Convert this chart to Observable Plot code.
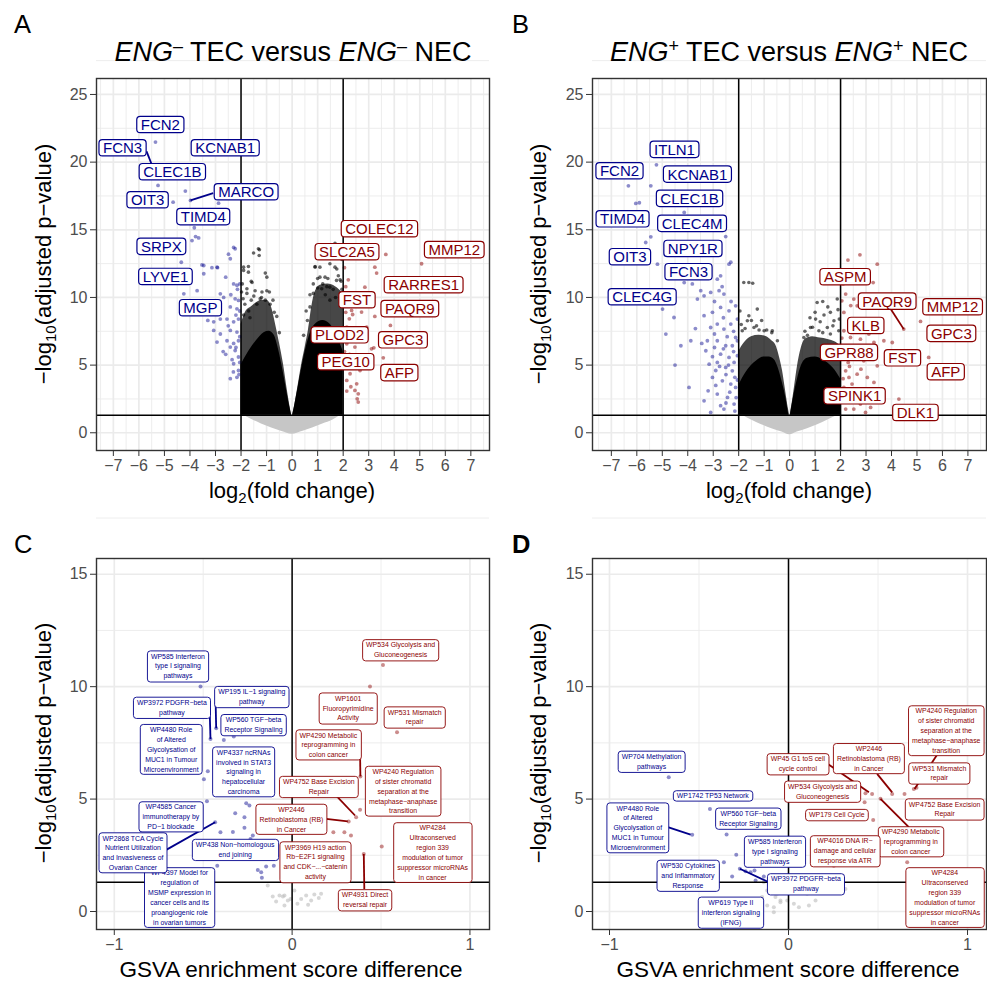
<!DOCTYPE html>
<html><head><meta charset="utf-8">
<script src="https://cdn.jsdelivr.net/npm/d3@7"></script>
<script src="https://cdn.jsdelivr.net/npm/@observablehq/plot@0.6"></script>
<style>
body{margin:0;background:#fff;}
#root{position:relative;width:987px;height:983px;overflow:hidden;background:#fff;}
#root svg{position:absolute;}
</style></head>
<body><div id="root"></div>
<script>
// ---------------- Panel A data (ENG- TEC vs ENG- NEC) ----------------
const aBlue = [[-5.35,21.48],[-5.45,19.8],[-5.25,18.28],[-4.18,17.86],[-3.98,17.17],[-4.66,17.04],[-2.88,16.97],[-3.83,15.15],[-3.92,14.2],[-3.66,14.4],[-3.78,14.5],[-2.23,13.6],[-4.34,12.6],[-3.53,12.4],[-3.14,12.2],[-2.92,12.2],[-2.49,13.2],[-2.29,13.7],[-2.42,12.86],[-3.46,11.75],[-3.72,10.5],[-4.24,10.27],[-2.81,10.27],[-2.68,10.0],[-2.29,11.0],[-2.16,10.9],[-2.14,10.6],[-2.23,9.9],[-2.1,9.78],[-2.42,9.3],[-2.16,9.16],[-2.81,8.4],[-2.55,8.4],[-3.07,8.2],[-2.29,8.2],[-2.1,8.4],[-3.07,7.56],[-2.81,7.3],[-2.42,7.56],[-2.16,7.44],[-2.55,6.8],[-2.29,6.6],[-2.1,6.8],[-2.42,6.33],[-2.23,6.08],[-2.1,5.6],[-2.29,5.1],[-2.1,4.6],[-2.16,4.1],[-2.42,4.0],[-2.94,6.7],[-2.6,5.8],[-2.35,5.4],[-2.7,6.0],[-2.05,7.1],[-2.05,9.0],[-2.5,7.9],[-2.2,8.7],[-3.3,8.3],[-2.3,4.5],[-2.05,5.2],[-2.94,12.24],[-3.46,12.36],[-2.6,11.5],[-2.05,11.0],[-2.4,10.2],[-2.9,9.6],[-2.2,6.3],[-2.08,4.3]];
const aRed = [[3.67,13.18],[5.07,12.49],[3.24,12.24],[3.31,11.8],[2.2,11.3],[2.85,10.76],[2.27,10.0],[2.07,9.65],[2.33,9.04],[2.37,8.74],[2.24,8.42],[2.72,8.92],[3.24,8.6],[3.85,7.93],[2.14,7.8],[2.33,7.56],[2.92,7.8],[2.14,6.58],[2.46,6.33],[3.11,6.2],[3.2,6.28],[3.57,5.54],[2.2,5.22],[2.4,4.85],[2.66,4.6],[2.27,4.36],[2.14,3.87],[2.53,3.62],[2.46,3.13],[2.14,3.08],[2.59,2.88],[2.55,2.51],[2.59,2.27],[2.92,4.85],[2.05,12.2],[2.1,10.8],[2.05,6.0],[2.25,5.8],[2.1,8.9],[2.05,4.9],[2.3,3.4]];
const aBlack = [[-1.51,13.28],[-1.28,13.52],[-1.71,12.29],[-1.9,12.0],[-1.05,11.8],[-1.77,10.64],[-1.45,10.5],[-0.99,10.5],[-0.89,10.4],[1.48,12.49],[1.68,12.24],[1.09,12.24],[0.9,12.29],[1.81,11.6],[1.29,11.5],[0.83,11.0],[1.74,11.26],[1.16,10.64],[1.48,10.76],[1.88,10.0],[1.68,14.0],[-1.95,11.0],[-1.6,11.2],[-1.2,10.0],[-1.85,9.5],[-1.6,9.8],[-0.75,9.8],[1.95,12.8],[1.6,13.0],[1.0,11.4],[0.7,10.2],[1.92,11.2],[-1.98,10.4],[-1.9,8.7],[-1.7,9.0],[-0.6,8.6],[0.55,9.0],[1.3,10.2],[-1.9,12.24],[-1.71,11.87],[-1.32,13.6],[-1.29,13.1],[-0.99,11.5],[-1.57,11.1],[-1.77,10.3],[-1.18,10.4],[-1.05,9.8],[-1.38,9.5],[-0.86,9.5],[-1.5,10.1],[-1.25,9.9],[-1.92,9.9],[-1.65,8.5],[-0.7,8.9],[-0.5,7.4],[0.9,12.24],[1.09,11.5],[0.83,10.3],[1.36,10.8],[1.75,12.1],[1.88,11.3],[0.7,9.3],[1.48,9.8],[1.61,10.6],[1.2,11.0],[1.0,10.7],[1.95,10.6],[1.4,11.4],[0.6,8.3],[0.45,7.2],[1.7,10.0]];
const aLobeL = [[-2,8.0],[-1.8,9.0],[-1.6,9.3],[-1.4,9.6],[-1.2,9.8],[-1.0,9.8],[-0.85,9.5],[-0.6,7.6],[-0.45,6.2],[-0.34,5.1],[-0.2,3.3],[-0.08,1.9],[-0.02,1.3]];
const aCoreL = [[-2,5.0],[-1.7,6.0],[-1.4,6.8],[-1.1,7.4],[-0.9,7.5],[-0.7,7.2],[-0.55,6.3],[-0.4,5.0],[-0.25,3.5],[-0.1,2.0],[-0.02,1.3]];
const aLobeR = [[0.02,1.3],[0.1,2.0],[0.22,3.3],[0.38,5.1],[0.52,6.4],[0.64,7.6],[0.77,9.3],[0.9,10.4],[1.1,10.9],[1.4,11.0],[1.7,10.8],[2.0,10.3]];
const aCoreR = [[0.02,1.3],[0.1,2.0],[0.25,3.5],[0.4,5.0],[0.55,6.3],[0.7,7.3],[0.9,8.0],[1.2,8.3],[1.5,8.0],[1.8,7.0],[2.0,6.0]];
const aGray = [[-1.9,1.3],[-1.6,1.0],[-1.2,0.65],[-0.8,0.35],[-0.4,0.1],[0,-0.1],[0.4,0.1],[0.8,0.35],[1.2,0.65],[1.6,0.95],[1.9,1.3]];
const aBlueGenes = ["FCN2","FCN3","KCNAB1","CLEC1B","MARCO","OIT3","TIMD4","SRPX","LYVE1","MGP"];
const aBlueLabelPos = [[-5.16,22.73],[-6.64,21.01],[-2.62,21.01],[-4.69,19.24],[-1.8,17.76],[-5.66,17.17],[-3.48,15.92],[-5.12,13.72],[-4.96,11.5],[-3.59,9.19]];
const aRedGenes = ["COLEC12","SLC2A5","MMP12","RARRES1","FST","PAQR9","PLOD2","GPC3","PEG10","AFP"];
const aRedLabelPos = [[3.42,15.03],[2.15,13.33],[6.35,13.48],[5.15,10.89],[2.54,9.78],[4.61,9.12],[1.86,7.19],[4.34,6.82],[2.1,5.2],[4.2,4.39]];
const aBlueLinks = [[-5.7,20.8,-5.45,19.6],[-3.09,17.71,-3.98,17.17]];
const aRedLinks = [];

// ---------------- Panel B data (ENG+ TEC vs ENG+ NEC) ----------------
const bBlue = [[-5.23,19.8],[-6.33,18.25],[-5.45,18.25],[-6.04,16.95],[-5.9,17.0],[-4.14,16.28],[-2.51,14.5],[-5.45,14.48],[-5.65,14.06],[-5.19,12.46],[-4.14,11.1],[-3.82,11.0],[-2.84,11.35],[-2.71,11.6],[-2.38,12.46],[-2.31,12.6],[-3.49,10.5],[-3.62,9.88],[-3.36,10.12],[-3.1,10.37],[-2.77,10.5],[-2.58,10.25],[-4.99,9.14],[-4.54,8.52],[-4.86,7.29],[-4.27,6.43],[-3.88,6.8],[-3.95,3.35],[-3.36,2.36],[-3.1,1.5],[-2.58,1.75],[-3.36,8.65],[-3.03,8.9],[-2.71,9.26],[-2.38,9.01],[-2.12,9.38],[-3.1,7.78],[-2.84,8.03],[-2.58,7.66],[-2.31,8.03],[-3.23,6.8],[-2.84,6.8],[-2.51,6.43],[-2.25,6.43],[-2.12,7.04],[-3.29,6.06],[-3.03,5.62],[-2.71,5.81],[-2.38,5.57],[-2.18,5.2],[-3.16,5.07],[-2.84,5.2],[-2.51,4.83],[-2.25,4.58],[-3.03,4.09],[-2.64,3.84],[-2.31,3.6],[-2.12,3.35],[-2.84,2.86],[-2.44,2.61],[-2.18,2.12],[-2.71,2.0],[-2.95,7.3],[-2.45,7.1],[-2.2,6.0],[-2.6,6.2],[-2.95,6.3],[-2.4,5.0],[-2.15,4.1],[-2.9,4.6],[-2.5,4.3],[-2.05,5.7],[-2.05,8.4],[-2.3,9.7],[-2.6,8.5],[-2.2,7.5],[-2.75,4.9],[-2.35,3.0],[-2.1,2.6],[-2.5,2.2],[-3.2,3.1],[-2.9,3.5],[-2.05,6.8],[-2.65,10.8],[-2.95,9.7],[-3.7,7.7],[-3.45,6.6],[-4.5,5.0],[-2.05,3.9],[-2.15,1.6]];
const bRed = [[2.29,12.76],[2.76,13.15],[3.44,12.46],[3.28,11.1],[2.2,10.25],[2.05,9.75],[2.52,9.88],[2.65,9.38],[2.13,8.89],[2.59,8.28],[5.14,8.23],[4.48,7.66],[3.7,6.8],[4.03,6.67],[5.46,5.57],[4.29,2.49],[2.13,7.54],[2.39,7.04],[2.78,6.92],[3.11,7.29],[3.31,6.67],[2.13,6.06],[2.52,5.69],[2.91,5.32],[3.44,4.95],[2.2,4.58],[2.33,4.09],[2.65,4.33],[3.05,4.09],[3.31,3.72],[2.13,3.35],[2.39,2.61],[2.78,2.12],[2.52,1.75],[2.98,1.5],[3.18,1.87],[2.2,1.75],[2.3,5.2],[2.1,4.0],[2.45,3.6],[2.7,3.0],[2.2,2.3],[2.6,6.3],[2.05,7.0],[2.9,8.0],[2.4,9.4],[2.1,11.0],[3.0,5.9],[2.35,4.9],[2.8,4.7]];
const bBlack = [[-1.8,11.1],[-1.6,11.1],[-1.45,11.05],[-1.6,8.65],[-1.27,9.14],[-1.1,8.3],[-1.9,8.0],[-1.5,8.3],[-0.9,7.6],[1.08,9.63],[1.3,9.7],[1.6,8.9],[0.8,8.5],[1.87,9.88],[1.5,9.3],[1.9,9.1],[1.2,8.2],[0.9,7.8],[1.7,7.9],[1.95,8.4],[1.35,8.7],[-1.95,9.0],[-1.75,7.7],[-1.3,7.9],[-0.7,7.4],[0.6,7.5],[1.0,8.9],[-1.66,8.28],[-1.4,7.78],[-1.0,7.54],[-0.68,7.54],[-1.86,7.54],[-0.48,6.8],[-1.2,7.6],[0.56,7.04],[0.82,7.78],[1.15,7.54],[1.48,7.78],[1.74,8.28],[1.93,7.54],[1.02,8.4],[1.3,7.4],[1.6,7.3],[0.7,7.2]];
const bLobeL = [[-2,6.0],[-1.8,6.6],[-1.5,7.1],[-1.2,7.2],[-0.9,7.1],[-0.7,6.8],[-0.55,6.5],[-0.4,5.6],[-0.28,4.6],[-0.15,3.0],[-0.05,1.8],[0,1.3]];
const bCoreL = [[-2,3.5],[-1.7,4.5],[-1.3,5.3],[-1.0,5.6],[-0.8,5.6],[-0.6,5.4],[-0.45,4.8],[-0.3,3.8],[-0.15,2.6],[-0.03,1.3]];
const bLobeR = [[0.02,1.3],[0.1,2.2],[0.2,3.5],[0.3,4.8],[0.45,6.2],[0.6,6.9],[0.9,7.1],[1.2,7.0],[1.5,6.9],[1.8,6.7],[2.0,6.4]];
const bCoreR = [[0.03,1.3],[0.15,2.6],[0.3,3.9],[0.45,4.9],[0.7,5.5],[1.0,5.6],[1.3,5.4],[1.7,4.8],[2.0,4.0]];
const bGray = [[-1.85,1.3],[-1.5,0.95],[-1.1,0.6],[-0.7,0.3],[-0.3,0.05],[0,-0.15],[0.3,0.05],[0.7,0.3],[1.1,0.6],[1.5,0.95],[1.9,1.3]];
const bBlueGenes = ["ITLN1","FCN2","KCNAB1","CLEC1B","TIMD4","CLEC4M","NPY1R","OIT3","FCN3","CLEC4G"];
const bBlueLabelPos = [[-4.52,20.89],[-6.68,19.31],[-3.62,19.06],[-3.93,17.27],[-6.56,15.76],[-3.83,15.42],[-3.8,13.57],[-6.27,12.96],[-3.97,11.85],[-5.79,10.0]];
const bRedGenes = ["ASPM","PAQR9","MMP12","KLB","GPC3","GPR88","FST","AFP","SPINK1","DLK1"];
const bRedLabelPos = [[2.18,11.48],[3.83,9.68],[6.4,9.26],[2.99,7.88],[6.35,7.29],[2.33,5.89],[4.43,5.49],[6.13,4.46],[2.55,2.68],[4.94,1.45]];
const bBlueLinks = [];
const bRedLinks = [[3.95,9.2,4.48,7.66]];

// ---------------- Panel C data (GSVA, ENG-) ----------------
const cBlue = [[-0.515,10.01],[-0.427,8.15],[-0.459,7.67],[-0.384,7.63],[-0.328,7.78],[-0.305,9.35],[-0.474,6.24],[-0.496,5.88],[-0.479,4.9],[-0.258,4.81],[-0.24,4.71],[-0.32,4.37],[-0.268,4.19],[-0.433,3.97],[-0.403,3.53],[-0.333,3.54],[-0.268,3.72],[-0.221,3.38],[-0.234,3.23],[-0.313,3.04],[-0.421,2.04],[-0.193,1.85],[-0.174,1.75],[-0.146,2.0],[-0.103,2.04],[-0.17,1.5],[-0.184,2.49],[-0.23,2.49],[-0.28,6.05],[-0.25,5.8]];
const cRed = [[0.511,10.96],[0.438,10.01],[0.59,7.97],[0.384,6.01],[0.382,4.53],[0.36,4.19],[0.318,4.0],[0.232,3.53],[0.294,3.53],[0.331,3.38],[0.504,2.89],[0.403,2.56]];
const cGray = [[-0.043,0.71],[-0.024,0.49],[0.051,0.56],[0.079,0.71],[0.107,0.49],[0.125,0.76],[0.163,0.79],[0.013,0.93],[-0.137,1.16],[-0.071,0.71],[-0.052,0.67],[-0.043,0.27],[-0.109,0.67],[-0.009,0.56],[0.03,0.35],[0.09,0.3],[-0.09,0.45],[0.15,0.6]];
const cBlueTerms = ["WP585 Interferon\ntype I signaling\npathways","WP195 IL\u22121 signaling\npathway","WP3972 PDGFR\u2212beta\npathway","WP560 TGF\u2212beta\nReceptor Signaling","WP4480 Role\nof Altered\nGlycolysation of\nMUC1 in Tumour\nMicroenvironment","WP4337 ncRNAs\ninvolved in STAT3\nsignaling in\nhepatocellular\ncarcinoma","WP4585 Cancer\nimmunotherapy by\nPD\u22121 blockade","WP4397 Model for\nregulation of\nMSMP expression in\ncancer cells and its\nproangiogenic role\nin ovarian tumors","WP2868 TCA Cycle\nNutrient Utilization\nand Invasiveness of\nOvarian Cancer","WP438 Non\u2212homologous\nend joining"];
const cBlueLabelPos = [[-0.642,10.95],[-0.227,9.59],[-0.676,9.11],[-0.217,8.34],[-0.68,7.24],[-0.273,6.24],[-0.682,4.24],[-0.633,0.65],[-0.895,2.64],[-0.32,2.79]];
const cRedTerms = ["WP534 Glycolysis and\nGluconeogenesis","WP1601\nFluoropyrimidine\nActivity","WP531 Mismatch\nrepair","WP4290 Metabolic\nreprogramming in\ncolon cancer","WP4240 Regulation\nof sister chromatid\nseparation at the\nmetaphase\u2212anaphase\ntransition","WP4752 Base Excision\nRepair","WP2446\nRetinoblastoma (RB)\nin Cancer","WP3969 H19 action\nRb\u2212E2F1 signaling\nand CDK\u2212...\u2212catenin\nactivity","WP4284\nUltraconserved\nregion 339\nmodulation of tumor\nsuppressor microRNAs\nin cancer","WP4931 Direct\nreversal repair"];
const cRedLabelPos = [[0.61,11.67],[0.315,9.08],[0.689,8.68],[0.204,7.44],[0.624,5.38],[0.15,5.59],[-0.004,4.13],[0.131,2.24],[0.79,2.65],[0.41,0.55]];
const cBlueLinks = [[-0.43,9.3,-0.427,8.15],[-0.464,9.05,-0.459,7.67],[-0.708,2.74,-0.433,3.97]];
const cRedLinks = [[0.382,7.08,0.384,6.01],[0.253,5.11,0.354,4.27],[0.191,4.12,0.313,4.01],[0.406,1.0,0.403,2.56]];

// ---------------- Panel D data (GSVA, ENG+) ----------------
const dBlue = [[-0.669,5.97],[-0.439,4.56],[-0.538,3.41],[-0.346,3.42],[-0.292,2.53],[-0.361,2.19],[-0.272,1.9],[-0.24,1.79],[-0.212,1.75],[-0.19,1.82],[-0.315,1.56],[-0.23,2.04],[-0.184,1.38],[-0.138,1.56],[-0.212,2.64],[-0.18,2.6]];
const dRed = [[0.43,5.26],[0.467,5.23],[0.514,5.01],[0.579,5.23],[0.648,5.23],[0.7,5.45],[0.715,5.5],[0.425,4.86],[0.473,4.07],[0.663,2.19],[0.305,2.56],[0.253,2.04]];
const dGray = [[-0.138,1.3],[-0.119,0.93],[-0.073,0.64],[-0.045,0.41],[-0.082,0.19],[-0.007,0.49],[0.104,0.79],[0.179,1.16],[0.272,1.23],[0.318,1.0],[0.151,0.49],[0.114,0.27],[0.058,0.19],[0.03,0.34],[-0.1,1.08],[-0.063,0.79],[-0.147,0.64],[-0.119,0.27],[-0.082,-0.03],[-0.045,0.49]];
const dBlueTerms = ["WP704 Methylation\npathways","WP1742 TP53 Network","WP4480 Role\nof Altered\nGlycolysation of\nMUC1 in Tumour\nMicroenvironment","WP560 TGF\u2212beta\nReceptor Signaling","WP585 Interferon\ntype I signaling\npathways","WP530 Cytokines\nand Inflammatory\nResponse","WP3972 PDGFR\u2212beta\npathway","WP619 Type II\ninterferon signaling\n(IFNG)"];
const dBlueLabelPos = [[-0.765,6.71],[-0.423,5.17],[-0.842,3.75],[-0.225,4.18],[-0.076,2.71],[-0.562,1.64],[0.097,1.26],[-0.322,0.0]];
const dRedTerms = ["WP4240 Regulation\nof sister chromatid\nseparation at the\nmetaphase\u2212anaphase\ntransition","WP2446\nRetinoblastoma (RB)\nin Cancer","WP45 G1 toS cell\ncycle control","WP531 Mismatch\nrepair","WP534 Glycolysis and\nGluconeogenesis","WP179 Cell Cycle","WP4752 Base Excision\nRepair","WP4290 Metabolic\nreprogramming in\ncolon cancer","WP4016 DNA IR\u2212\ndamage and cellular\nresponse via ATR","WP4284\nUltraconserved\nregion 339\nmodulation of tumor\nsuppressor microRNAs\nin cancer"];
const dRedLabelPos = [[0.881,8.07],[0.449,6.83],[0.052,6.6],[0.842,6.19],[0.19,5.38],[0.27,4.34],[0.872,4.59],[0.683,3.13],[0.315,2.73],[0.873,0.65]];
const dBlueLinks = [[-0.674,3.75,-0.547,3.42],[-0.11,1.3,-0.272,1.9]];
const dRedLinks = [[0.22,6.56,0.449,5.3],[0.495,6.12,0.579,5.3],[0.831,6.98,0.704,5.45],[0.672,3.75,0.514,5.01]];

// ---------------- shared settings ----------------
const volcanoXTicks = [-7,-6,-5,-4,-3,-2,-1,0,1,2,3,4,5,6,7];
const volcanoYTicks = [0,5,10,15,20,25];
const gsvaXTicks = [-1,0,1];
const gsvaYTicks = [0,5,10,15];

const FONT = "'Liberation Sans', Arial, Helvetica, sans-serif";
const BLUE = "#00008b", RED = "#8b0000";
const fmt = d => d < 0 ? "\u2212" + Math.abs(d) : String(d);
const P = a => a.map(([x, y]) => ({x, y}));
const LAB = (names, pos) => names.map((n, i) => ({n, x: pos[i][0], y: pos[i][1]}));
const LNK = a => a.map(([x1, y1, x2, y2]) => ({x1, y1, x2, y2}));
const halfSteps = (ticks) => ticks.slice(0, -1).map((t, i) => (t + ticks[i + 1]) / 2);

function baseMarks(xTicks, yTicks, xDomain) {
  const step = xTicks[1] - xTicks[0];
  const minorX = [...halfSteps(xTicks), xTicks[0] - step / 2, xTicks[xTicks.length - 1] + step / 2].filter(v => v > xDomain[0] && v < xDomain[1]);
  const minorY = [...halfSteps(yTicks), yTicks[yTicks.length - 1] + (yTicks[1] - yTicks[0]) / 2];
  return [
    Plot.ruleX(minorX, {stroke: "#ebebeb", strokeWidth: 0.9}),
    Plot.ruleY(minorY, {stroke: "#ebebeb", strokeWidth: 0.9}),
    Plot.ruleX(xTicks, {stroke: "#ebebeb", strokeWidth: 1.7}),
    Plot.ruleY(yTicks, {stroke: "#ebebeb", strokeWidth: 1.7})
  ];
}
function axes(xTicks, yTicks) {
  return [
    Plot.axisX(xTicks, {tickFormat: fmt, tickSize: 6, tickPadding: 3, label: null, fontSize: 16, stroke: "#333", fill: "#4d4d4d"}),
    Plot.axisY(yTicks, {tickFormat: fmt, tickSize: 6, tickPadding: 3, label: null, fontSize: 16, stroke: "#333", fill: "#4d4d4d"})
  ];
}

function volcano(c) {
  return Plot.plot({
    width: c.width, height: 500,
    marginLeft: c.ml, marginRight: c.mr, marginTop: 78, marginBottom: 50,
    x: {domain: c.xDomain}, y: {domain: [-1.31, 26.18]},
    style: {fontFamily: FONT, fontSize: "16px", background: "transparent", overflow: "visible"},
    marks: [
      ...baseMarks(volcanoXTicks, volcanoYTicks, c.xDomain),
      Plot.areaY(P(c.gray), {x: "x", y1: "y", y2: 1.3, fill: "#c6c6c6", curve: "monotone-x"}),
      Plot.areaY(P(c.lobeL), {x: "x", y1: 1.3, y2: "y", fill: "#000", fillOpacity: 0.72, curve: "monotone-x"}),
      Plot.areaY(P(c.lobeR), {x: "x", y1: 1.3, y2: "y", fill: "#000", fillOpacity: 0.72, curve: "monotone-x"}),
      Plot.areaY(P(c.coreL), {x: "x", y1: 1.3, y2: "y", fill: "#000", curve: "monotone-x"}),
      Plot.areaY(P(c.coreR), {x: "x", y1: 1.3, y2: "y", fill: "#000", curve: "monotone-x"}),
      Plot.dot(P(c.black), {x: "x", y: "y", r: 1.8, fill: "#000", fillOpacity: 0.6, stroke: "none"}),
      Plot.dot(P(c.blue), {x: "x", y: "y", r: 1.9, fill: BLUE, fillOpacity: 0.45, stroke: "none"}),
      Plot.dot(P(c.red), {x: "x", y: "y", r: 1.9, fill: RED, fillOpacity: 0.5, stroke: "none"}),
      Plot.ruleX([-2, 2], {stroke: "#000", strokeWidth: 1.5}),
      Plot.ruleY([1.3], {stroke: "#000", strokeWidth: 1.5}),
      Plot.frame({stroke: "#333", strokeWidth: 1.4}),
      ...axes(volcanoXTicks, volcanoYTicks),
      Plot.link(LNK(c.blueLinks), {x1: "x1", y1: "y1", x2: "x2", y2: "y2", stroke: BLUE, strokeWidth: 1.8}),
      Plot.link(LNK(c.redLinks), {x1: "x1", y1: "y1", x2: "x2", y2: "y2", stroke: RED, strokeWidth: 1.8}),
      Plot.text(LAB(c.blueNames, c.bluePos), {x: "x", y: "y", text: "n", fill: BLUE, fontSize: 15}),
      Plot.text(LAB(c.redNames, c.redPos), {x: "x", y: "y", text: "n", fill: RED, fontSize: 15})
    ]
  });
}

function gsva(c) {
  return Plot.plot({
    width: c.width, height: 483,
    marginLeft: c.ml, marginRight: c.mr, marginTop: 58, marginBottom: 54,
    x: {domain: c.xDomain}, y: {domain: [-0.8, 15.7]},
    style: {fontFamily: FONT, fontSize: "16px", background: "transparent", overflow: "visible"},
    marks: [
      ...baseMarks(gsvaXTicks, gsvaYTicks, c.xDomain),
      Plot.dot(P(c.gray), {x: "x", y: "y", r: 2, fill: "#bdbdbd", fillOpacity: 0.6, stroke: "none"}),
      Plot.dot(P(c.blue), {x: "x", y: "y", r: 2, fill: BLUE, fillOpacity: 0.45, stroke: "none"}),
      Plot.dot(P(c.red), {x: "x", y: "y", r: 2, fill: RED, fillOpacity: 0.45, stroke: "none"}),
      Plot.ruleX([0], {stroke: "#000", strokeWidth: 1.5}),
      Plot.ruleY([1.3], {stroke: "#000", strokeWidth: 1.5}),
      Plot.frame({stroke: "#333", strokeWidth: 1.4}),
      ...axes(gsvaXTicks, gsvaYTicks),
      Plot.link(LNK(c.blueLinks), {x1: "x1", y1: "y1", x2: "x2", y2: "y2", stroke: BLUE, strokeWidth: 1.8}),
      Plot.link(LNK(c.redLinks), {x1: "x1", y1: "y1", x2: "x2", y2: "y2", stroke: RED, strokeWidth: 1.8}),
      Plot.text(LAB(c.blueNames, c.bluePos), {x: "x", y: "y", text: "n", fill: BLUE, fontSize: 6.9, lineHeight: 1.43}),
      Plot.text(LAB(c.redNames, c.redPos), {x: "x", y: "y", text: "n", fill: RED, fontSize: 6.9, lineHeight: 1.43})
    ]
  });
}

function addBoxes(svg, padX, padY, rx, sw) {
  svg.querySelectorAll('g[aria-label="text"]').forEach(g => {
    for (const t of Array.from(g.querySelectorAll("text"))) {
      const col = t.getAttribute("fill") || g.getAttribute("fill");
      const bb = t.getBBox();
      const r = document.createElementNS("http://www.w3.org/2000/svg", "rect");
      r.setAttribute("x", bb.x - padX);
      r.setAttribute("y", bb.y - padY);
      r.setAttribute("width", bb.width + 2 * padX);
      r.setAttribute("height", bb.height + 2 * padY);
      r.setAttribute("rx", rx);
      r.setAttribute("fill", "#fff");
      r.setAttribute("stroke", col);
      r.setAttribute("stroke-width", sw);
      const tr = t.getAttribute("transform");
      if (tr) r.setAttribute("transform", tr);
      g.insertBefore(r, t);
    }
  });
}

const root = document.getElementById("root");
function place(svg, left, top) { svg.style.left = left + "px"; svg.style.top = top + "px"; root.appendChild(svg); return svg; }

const svgA = place(volcano({width: 493, ml: 96, mr: 4, xDomain: [-7.66, 7.73], gray: aGray, lobeL: aLobeL, lobeR: aLobeR, coreL: aCoreL, coreR: aCoreR, black: aBlack, blue: aBlue, red: aRed, blueLinks: aBlueLinks, redLinks: aRedLinks, blueNames: aBlueGenes, bluePos: aBlueLabelPos, redNames: aRedGenes, redPos: aRedLabelPos}), 0, 0);
const svgB = place(volcano({width: 494, ml: 99, mr: 1, xDomain: [-7.74, 7.73], gray: bGray, lobeL: bLobeL, lobeR: bLobeR, coreL: bCoreL, coreR: bCoreR, black: bBlack, blue: bBlue, red: bRed, blueLinks: bBlueLinks, redLinks: bRedLinks, blueNames: bBlueGenes, bluePos: bBlueLabelPos, redNames: bRedGenes, redPos: bRedLabelPos}), 493, 0);
const svgC = place(gsva({width: 493, ml: 96, mr: 4, xDomain: [-1.1, 1.11], gray: cGray, blue: cBlue, red: cRed, blueLinks: cBlueLinks, redLinks: cRedLinks, blueNames: cBlueTerms, bluePos: cBlueLabelPos, redNames: cRedTerms, redPos: cRedLabelPos}), 0, 500);
const svgD = place(gsva({width: 494, ml: 99, mr: 1, xDomain: [-1.095, 1.106], gray: dGray, blue: dBlue, red: dRed, blueLinks: dBlueLinks, redLinks: dRedLinks, blueNames: dBlueTerms, bluePos: dBlueLabelPos, redNames: dRedTerms, redPos: dRedLabelPos}), 493, 500);

addBoxes(svgA, 4, -0.3, 3.5, 1.2);
addBoxes(svgB, 4, -0.3, 3.5, 1.2);
addBoxes(svgC, 3.5, 1.7, 3, 0.9);
addBoxes(svgD, 3.5, 1.7, 3, 0.9);

// ---------------- titles, panel letters and axis titles ----------------
const ov = d3.select(root).append("svg").attr("width", 987).attr("height", 983)
  .style("left", "0px").style("top", "0px").style("pointer-events", "none")
  .attr("font-family", FONT).attr("fill", "#000");
const letters = [["A", 14, 33, "normal"], ["B", 512, 33, "normal"], ["C", 14, 553, "normal"], ["D", 512, 553, "bold"]];
letters.forEach(([t, x, y, w]) => ov.append("text").attr("x", x).attr("y", y).attr("font-size", 25.5).attr("font-weight", w).text(t));

function title(x, sign) {
  const t = ov.append("text").attr("x", x).attr("y", 61).attr("text-anchor", "middle").attr("font-size", 27);
  t.append("tspan").attr("font-style", "italic").text("ENG");
  t.append("tspan").attr("dy", -9.5).attr("font-size", 18).text(sign);
  t.append("tspan").attr("dy", 9.5).text(" TEC versus ");
  t.append("tspan").attr("font-style", "italic").text("ENG");
  t.append("tspan").attr("dy", -9.5).attr("font-size", 18).text(sign);
  t.append("tspan").attr("dy", 9.5).text(" NEC");
}
title(293, "\u2013");
title(789, "+");

function xTitleLog(x) {
  const t = ov.append("text").attr("x", x).attr("y", 498).attr("text-anchor", "middle").attr("font-size", 22);
  t.append("tspan").text("log");
  t.append("tspan").attr("dy", 5).attr("font-size", 15).text("2");
  t.append("tspan").attr("dy", -5).text("(fold change)");
}
xTitleLog(292); xTitleLog(789);
[291, 788].forEach(x => ov.append("text").attr("x", x).attr("y", 977).attr("text-anchor", "middle").attr("font-size", 22.5).text("GSVA enrichment score difference"));

function yTitle(x, y) {
  const t = ov.append("text").attr("transform", `translate(${x},${y}) rotate(-90)`).attr("text-anchor", "middle").attr("font-size", 22);
  t.append("tspan").text("\u2212log");
  t.append("tspan").attr("dy", 5).attr("font-size", 15).text("10");
  t.append("tspan").attr("dy", -5).text("(adjusted p\u2212value)");
}
yTitle(51, 264); yTitle(546, 264); yTitle(51, 743); yTitle(546, 743);
</script>
</body></html>
